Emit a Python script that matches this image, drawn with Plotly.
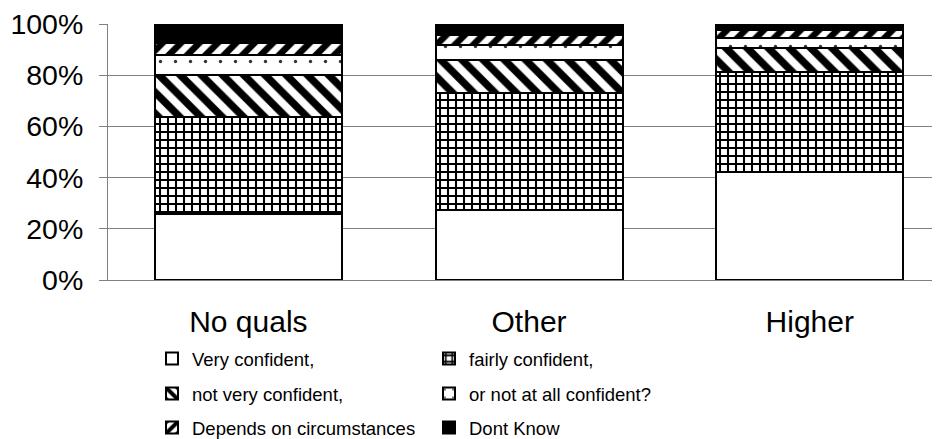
import plotly.graph_objects as go

categories = ["No quals", "Other", "Higher"]
series_names = ["Very confident,", "fairly confident,", "not very confident,",
                "or not at all confident?", "Depends on circumstances", "Dont Know"]
very_confident = [0.258, 0.274, 0.421]
fairly_confident = [0.378, 0.456, 0.390]
not_very_confident = [0.166, 0.128, 0.097]
not_at_all_confident = [0.075, 0.061, 0.037]
depends = [0.049, 0.039, 0.030]
dont_know = [0.074, 0.042, 0.025]
y_tick_vals = [0, 0.2, 0.4, 0.6, 0.8, 1.0]
y_tick_text = ["0%", "20%", "40%", "60%", "80%", "100%"]

series_values = [very_confident, fairly_confident, not_very_confident,
                 not_at_all_confident, depends, dont_know]

def pat(shape, size, solidity, fg="black"):
    return dict(shape=shape, size=size, solidity=solidity, fgcolor=fg,
                bgcolor="white", fgopacity=1, fillmode="replace")

styles = [
    dict(color="white", pattern=dict(shape="")),
    dict(color="white", pattern=pat("+", 8, 0.45)),
    dict(color="white", pattern=pat("\\", 15, 0.5)),
    dict(color="white", pattern=pat(".", 15, 0.04, "#333333")),
    dict(color="white", pattern=pat("/", 13, 0.5)),
    dict(color="black", pattern=dict(shape="")),
]

legend_ids = ["legend", "legend2", "legend3", "legend4", "legend5", "legend6"]

fig = go.Figure()
for name, vals, st, lid in zip(series_names, series_values, styles, legend_ids):
    fig.add_trace(go.Bar(
        x=categories, y=vals, name=name, legend=lid,
        marker=dict(color=st["color"], pattern=st["pattern"],
                    line=dict(color="black", width=2)),
    ))

# page body has an 8px margin: figure drawn at page offset (8, 8)
OFF = 8
W, H = 940 - OFF, 439 - OFF
ml, mr, mt, mb = 108 - OFF, 0, 24 - OFF, 159
pw, ph = W - ml - mr, H - mt - mb

def page_x_to_paper(px):
    return (px - OFF - ml) / pw

def page_y_to_paper(py):
    return (H - mb - (py - OFF)) / ph

col_x = [152, 429]
row_top = [340, 375, 409]
legend_font = dict(family="Liberation Sans, Arial", size=18.5, color="black")
layout_legends = {}
for i, lid in enumerate(legend_ids):
    r, c = divmod(i, 2)
    layout_legends[lid] = dict(
        x=page_x_to_paper(col_x[c]), y=page_y_to_paper(row_top[r]),
        xanchor="left", yanchor="top", orientation="h",
        font=legend_font, bgcolor="rgba(0,0,0,0)", borderwidth=0,
        itemclick=False, itemdoubleclick=False,
    )

fig.update_layout(
    width=W, height=H,
    margin=dict(l=ml, r=mr, t=mt, b=mb, pad=0, autoexpand=False),
    paper_bgcolor="white", plot_bgcolor="white",
    barmode="stack", bargap=0.334,
    font=dict(family="Liberation Sans, Arial", color="black"),
    showlegend=True,
    **layout_legends,
)
fig.update_xaxes(
    type="category", range=[-0.5, 2.464],
    showline=True, linecolor="#808080", linewidth=1,
    ticks="", showgrid=False,
    tickfont=dict(family="Liberation Sans, Arial", size=30, color="black"),
    ticklabelstandoff=15,
)
fig.update_yaxes(
    range=[0, 1], tickvals=y_tick_vals, ticktext=y_tick_text,
    showline=True, linecolor="#808080", linewidth=1,
    ticks="outside", ticklen=8, tickcolor="#808080",
    showgrid=True, gridcolor="#808080", gridwidth=1,
    zeroline=False,
    tickfont=dict(family="Liberation Sans, Arial", size=28.5, color="black"),
    ticklabelstandoff=10, ticklabeloverflow="allow",
)

fig.write_html("out.html")
